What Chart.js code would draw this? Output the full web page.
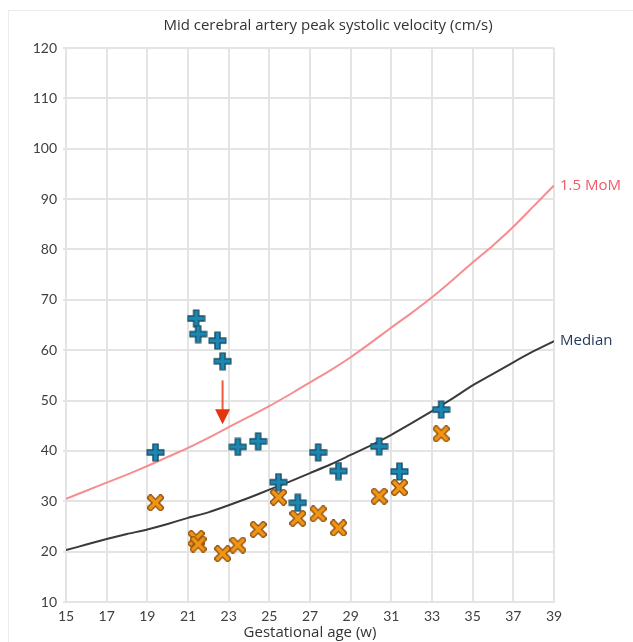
<!DOCTYPE html>
<html><head><meta charset="utf-8">
<script src="https://cdn.jsdelivr.net/npm/chart.js@4"></script>
<style>
html,body{margin:0;padding:0;background:#fff;}
#wrap{position:relative;width:633px;height:642px;overflow:hidden;}
#frame{position:absolute;left:8px;top:10px;width:640px;height:650px;border-left:1px solid #ececec;border-top:1px solid #ececec;}
#c{position:absolute;left:0;top:0;}
</style>
</head><body>
<div id="wrap"><div id="frame"></div><canvas id="c" width="633" height="642"></canvas></div>
<script>
const titleText = 'Mid cerebral artery peak systolic velocity (cm/s)';
const xTitle = 'Gestational age (w)';
const weeks = [15,16,17,18,19,20,21,22,23,24,25,26,27,28,29,30,31,32,33,34,35,36,37,38,39];
const median = [20.3,21.4,22.5,23.5,24.4,25.5,26.7,27.8,29.2,30.7,32.3,33.9,35.6,37.3,39.2,41.1,43.2,45.5,47.9,50.4,53.0,55.3,57.6,59.8,61.8];
const mom15 = [30.5,32.1,33.7,35.3,37.0,38.8,40.6,42.6,44.7,46.8,48.9,51.2,53.6,56.0,58.6,61.5,64.5,67.4,70.5,73.9,77.4,80.8,84.5,88.6,92.7];
const blueX = [19.4,21.4,21.5,22.45,22.7,23.45,24.45,25.45,26.4,27.4,28.4,30.4,31.4,33.45];
const blueY = [39.7,66.3,63.2,61.9,57.8,40.8,41.9,33.8,29.7,39.7,36.0,40.9,35.9,48.2];
const orangeX = [19.4,21.4,21.5,22.7,23.45,24.45,25.45,26.4,27.4,28.4,30.4,31.4,33.45];
const orangeY = [29.7,22.6,21.5,19.6,21.3,24.4,30.8,26.6,27.5,24.7,31.0,32.7,43.4];
const arrowX = 22.7, arrowFrom = 54.0, arrowTo = 45.3;
const xTicks = {min:15, max:39, step:2};
const yTicks = {min:10, max:120, step:10};

function plusImg(){
  const c=document.createElement('canvas'); c.width=c.height=19;
  const g=c.getContext('2d'); const m=9.5;
  const seg=(a,b,cc,d)=>{g.beginPath();g.moveTo(a,b);g.lineTo(cc,d);g.stroke();};
  g.lineCap='butt';
  g.strokeStyle='#1d4f66'; g.lineWidth=6.5;
  seg(m,0.5,m,18.5); seg(0.5,m,18.5,m);
  g.strokeStyle='#1a88b2'; g.lineWidth=3.6;
  seg(m,1.6,m,17.4); seg(1.6,m,17.4,m);
  return c;
}
function xImg(){
  const c=document.createElement('canvas'); c.width=c.height=17;
  const g=c.getContext('2d');
  const seg=(a,b,cc,d)=>{g.beginPath();g.moveTo(a,b);g.lineTo(cc,d);g.stroke();};
  g.lineCap='square';
  g.strokeStyle='#8f5210'; g.lineWidth=6.2;
  seg(3.5,3.5,13.5,13.5); seg(13.5,3.5,3.5,13.5);
  g.strokeStyle='#f39513'; g.lineWidth=3.6;
  seg(3.6,3.6,13.4,13.4); seg(13.4,3.6,3.6,13.4);
  return c;
}

const textFamily = '"Open Sans", Lato, sans-serif';
const extras = {
  id:'extras',
  afterDraw(chart){
    const ctx=chart.ctx, xs=chart.scales.x, ys=chart.scales.y;
    ctx.save();
    ctx.font='15px ' + textFamily;
    ctx.fillStyle='#333333'; ctx.textAlign='center'; ctx.textBaseline='middle';
    ctx.fillText(titleText, 328, 26);
    ctx.textAlign='left';
    const lx = xs.getPixelForValue(weeks[weeks.length-1]) + 6;
    ctx.fillStyle='#ee5b66';
    ctx.fillText('1.5 MoM', lx, ys.getPixelForValue(mom15[mom15.length-1]));
    ctx.fillStyle='#233a5c';
    ctx.fillText('Median', lx, ys.getPixelForValue(median[median.length-1]));
    const ax=xs.getPixelForValue(arrowX), y0=ys.getPixelForValue(arrowFrom), y1=ys.getPixelForValue(arrowTo);
    ctx.strokeStyle='#f0583a'; ctx.lineWidth=2;
    ctx.beginPath(); ctx.moveTo(ax,y0); ctx.lineTo(ax,y1-14); ctx.stroke();
    ctx.fillStyle='#e5330f';
    ctx.beginPath(); ctx.moveTo(ax-7.5,y1-15); ctx.lineTo(ax+7.5,y1-15); ctx.lineTo(ax,y1); ctx.closePath(); ctx.fill();
    ctx.restore();
  }
};

const tickFont = {family:'Lato, "Open Sans", sans-serif', size:14};
new Chart(document.getElementById('c'), {
  type:'scatter',
  data:{
    datasets:[
      {label:'1.5 MoM', type:'line', data:weeks.map((w,i)=>({x:w,y:mom15[i]})), borderColor:'#f68d8f', borderWidth:2, pointRadius:0, fill:false, tension:0.2, order:3},
      {label:'Median', type:'line', data:weeks.map((w,i)=>({x:w,y:median[i]})), borderColor:'#3a3a3a', borderWidth:2, pointRadius:0, fill:false, tension:0.2, order:3},
      {label:'MCA PSV', data:blueX.map((x,i)=>({x,y:blueY[i]})), pointStyle:plusImg(), pointRadius:9, order:1},
      {label:'MCA PSV 2', data:orangeX.map((x,i)=>({x,y:orangeY[i]})), pointStyle:xImg(), pointRadius:8, order:2}
    ]
  },
  options:{
    responsive:false, animation:false, events:[],
    layout:{padding:{top:48, right:79, bottom:0, left:0}},
    plugins:{legend:{display:false}, tooltip:{enabled:false}, title:{display:false}},
    scales:{
      x:{type:'linear', min:xTicks.min, max:xTicks.max,
        ticks:{stepSize:xTicks.step, color:'#404040', font:tickFont, padding:6, maxRotation:0},
        grid:{color:'#e4e4e4', lineWidth:2, drawTicks:false},
        border:{color:'#e4e4e4', width:2},
        title:{display:true, text:xTitle, color:'#333333', font:{family:textFamily, size:15}, padding:{top:0,bottom:0}},
        afterFit(s){ s.height = 40; }
      },
      y:{type:'linear', min:yTicks.min, max:yTicks.max,
        ticks:{stepSize:yTicks.step, color:'#404040', font:tickFont, padding:6},
        grid:{color:'#e4e4e4', lineWidth:2, drawTicks:true, tickLength:3},
        border:{color:'#e4e4e4', width:2},
        afterFit(s){ s.width = 66; }
      }
    }
  },
  plugins:[extras]
});
</script>
</body></html>
